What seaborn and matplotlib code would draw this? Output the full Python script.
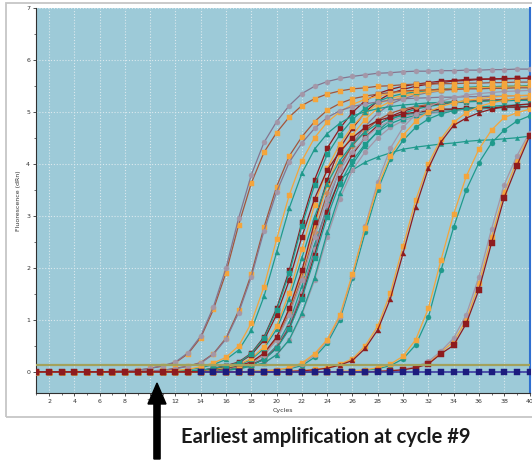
import matplotlib
matplotlib.use("Agg")
import matplotlib.pyplot as plt
from matplotlib.patches import Rectangle, FancyArrow
import numpy as np
import pandas as pd
import seaborn as sns

# ---------------- data ----------------
cycles = list(range(1, 41))
x_ticks = list(range(2, 41, 2))
y_ticks = [0, 1, 2, 3, 4, 5, 6, 7]
threshold = 0.13
x_label = "Cycles"
y_label = "Fluorescence (dRn)"
note = "Earliest amplification at cycle #9"

a1 = [0, 0, 0, 0, 0, 0, 0.01, 0.02, 0.03, 0.07, 0.12, 0.19, 0.37, 0.69, 1.25, 2.0, 2.96, 3.79, 4.41, 4.81,
      5.12, 5.35, 5.49, 5.58, 5.64, 5.68, 5.71, 5.74, 5.75, 5.77, 5.78, 5.78, 5.79, 5.79, 5.8, 5.8, 5.81, 5.81, 5.82, 5.82]
a2 = [0, 0, 0, 0, 0, 0, 0.01, 0.02, 0.03, 0.07, 0.11, 0.18, 0.35, 0.66, 1.2, 1.91, 2.83, 3.63, 4.22, 4.6,
      4.9, 5.12, 5.25, 5.34, 5.4, 5.44, 5.46, 5.49, 5.5, 5.52, 5.53, 5.53, 5.54, 5.54, 5.55, 5.55, 5.56, 5.56, 5.57, 5.57]
b1 = [0, 0, 0, 0, 0, 0, 0, 0, 0.01, 0.02, 0.03, 0.06, 0.11, 0.17, 0.34, 0.63, 1.14, 1.83, 2.71, 3.46,
      4.03, 4.4, 4.68, 4.89, 5.02, 5.1, 5.15, 5.19, 5.22, 5.25, 5.26, 5.27, 5.28, 5.28, 5.29, 5.29, 5.3, 5.3, 5.31, 5.31]
b1b = [0, 0, 0, 0, 0, 0, 0, 0, 0.01, 0.02, 0.03, 0.07, 0.11, 0.18, 0.35, 0.65, 1.18, 1.88, 2.78, 3.56,
       4.15, 4.52, 4.81, 5.03, 5.16, 5.25, 5.3, 5.34, 5.37, 5.4, 5.41, 5.42, 5.43, 5.43, 5.44, 5.44, 5.45, 5.45, 5.46, 5.46]
b2 = [0, 0, 0, 0, 0, 0, 0, 0, 0, 0, 0.01, 0.03, 0.05, 0.1, 0.17, 0.28, 0.5, 0.94, 1.64, 2.55,
      3.4, 4.06, 4.5, 4.8, 5.0, 5.14, 5.24, 5.3, 5.35, 5.38, 5.4, 5.42, 5.43, 5.44, 5.45, 5.46, 5.47, 5.47, 5.48, 5.48]
b2b = [0, 0, 0, 0, 0, 0, 0, 0, 0, 0, 0.01, 0.02, 0.04, 0.08, 0.14, 0.24, 0.42, 0.8, 1.45, 2.3,
       3.15, 3.82, 4.28, 4.58, 4.78, 4.92, 5.0, 5.06, 5.1, 5.13, 5.15, 5.17, 5.18, 5.19, 5.2, 5.2, 5.21, 5.21, 5.22, 5.22]
c1 = [0, 0, 0, 0, 0, 0, 0, 0, 0, 0, 0, 0.01, 0.02, 0.03, 0.07, 0.11, 0.18, 0.35, 0.65, 1.19,
      1.9, 2.81, 3.59, 4.18, 4.56, 4.85, 5.07, 5.2, 5.29, 5.35, 5.38, 5.41, 5.44, 5.45, 5.47, 5.48, 5.48, 5.49, 5.49, 5.5]
c2 = [0, 0, 0, 0, 0, 0, 0, 0, 0, 0, 0, 0.01, 0.02, 0.03, 0.06, 0.11, 0.17, 0.33, 0.61, 1.1,
      1.76, 2.6, 3.33, 3.88, 4.23, 4.5, 4.7, 4.83, 4.9, 4.96, 4.99, 5.02, 5.05, 5.05, 5.07, 5.08, 5.08, 5.09, 5.09, 5.1]
c14 = [0, 0, 0, 0, 0, 0, 0, 0, 0, 0, 0, 0.01, 0.02, 0.03, 0.07, 0.12, 0.19, 0.36, 0.67, 1.22,
       1.95, 2.88, 3.69, 4.3, 4.68, 4.99, 5.21, 5.35, 5.43, 5.49, 5.53, 5.56, 5.59, 5.6, 5.62, 5.63, 5.63, 5.64, 5.64, 5.65]
c3 = [0, 0, 0, 0, 0, 0, 0, 0, 0, 0, 0, 0, 0.01, 0.02, 0.05, 0.09, 0.14, 0.26, 0.48, 0.88,
      1.52, 2.36, 3.21, 3.91, 4.38, 4.72, 4.97, 5.15, 5.25, 5.32, 5.37, 5.4, 5.43, 5.45, 5.46, 5.47, 5.48, 5.49, 5.49, 5.5]
c4 = [0, 0, 0, 0, 0, 0, 0, 0, 0, 0, 0, 0, 0.01, 0.02, 0.04, 0.08, 0.13, 0.24, 0.45, 0.82,
      1.41, 2.19, 2.98, 3.62, 4.06, 4.38, 4.61, 4.77, 4.87, 4.93, 4.98, 5.01, 5.04, 5.05, 5.06, 5.07, 5.08, 5.09, 5.09, 5.1]
c5 = [0, 0, 0, 0, 0, 0, 0, 0, 0, 0, 0, 0, 0.01, 0.02, 0.03, 0.07, 0.12, 0.19, 0.36, 0.67,
      1.22, 1.95, 2.88, 3.69, 4.3, 4.68, 4.99, 5.21, 5.35, 5.43, 5.49, 5.53, 5.56, 5.59, 5.6, 5.62, 5.63, 5.63, 5.64, 5.64]
c6 = [0, 0, 0, 0, 0, 0, 0, 0, 0, 0, 0, 0, 0.01, 0.02, 0.03, 0.06, 0.11, 0.17, 0.33, 0.61,
      1.1, 1.76, 2.6, 3.33, 3.88, 4.23, 4.5, 4.7, 4.83, 4.9, 4.96, 4.99, 5.02, 5.05, 5.05, 5.07, 5.08, 5.08, 5.09, 5.09]
c7 = [0, 0, 0, 0, 0, 0, 0, 0, 0, 0, 0, 0, 0.01, 0.02, 0.03, 0.06, 0.11, 0.17, 0.33, 0.62,
      1.13, 1.81, 2.68, 3.43, 3.99, 4.35, 4.63, 4.84, 4.97, 5.05, 5.1, 5.14, 5.17, 5.19, 5.2, 5.22, 5.23, 5.23, 5.24, 5.24]
c9 = [0, 0, 0, 0, 0, 0, 0, 0, 0, 0, 0, 0, 0.01, 0.02, 0.03, 0.07, 0.11, 0.18, 0.35, 0.65,
      1.19, 1.9, 2.81, 3.59, 4.18, 4.56, 4.85, 5.07, 5.2, 5.29, 5.35, 5.38, 5.41, 5.44, 5.45, 5.47, 5.48, 5.48, 5.49, 5.49]
c8 = [0, 0, 0, 0, 0, 0, 0, 0, 0, 0, 0, 0, 0, 0.01, 0.02, 0.04, 0.08, 0.13, 0.24, 0.45,
      0.82, 1.41, 2.19, 2.98, 3.62, 4.06, 4.38, 4.61, 4.77, 4.87, 4.93, 4.98, 5.01, 5.04, 5.05, 5.06, 5.07, 5.08, 5.09, 5.09]
c10 = [0, 0, 0, 0, 0, 0, 0, 0, 0, 0, 0, 0, 0, 0.01, 0.02, 0.05, 0.08, 0.14, 0.24, 0.46,
       0.84, 1.45, 2.25, 3.07, 3.73, 4.18, 4.51, 4.74, 4.91, 5.01, 5.08, 5.12, 5.16, 5.19, 5.2, 5.21, 5.22, 5.23, 5.24, 5.24]
c11 = [0, 0, 0, 0, 0, 0, 0, 0, 0, 0, 0, 0, 0, 0.01, 0.02, 0.05, 0.09, 0.14, 0.26, 0.48,
       0.88, 1.52, 2.36, 3.21, 3.91, 4.38, 4.72, 4.97, 5.15, 5.25, 5.32, 5.37, 5.4, 5.43, 5.45, 5.46, 5.47, 5.48, 5.49, 5.49]
c12 = [0, 0, 0, 0, 0, 0, 0, 0, 0, 0, 0, 0, 0, 0.01, 0.02, 0.03, 0.06, 0.11, 0.17, 0.33,
       0.62, 1.13, 1.81, 2.68, 3.43, 3.99, 4.35, 4.63, 4.84, 4.97, 5.05, 5.1, 5.14, 5.17, 5.19, 5.2, 5.22, 5.23, 5.23, 5.24]
c13 = [0, 0, 0, 0, 0, 0, 0, 0, 0, 0, 0, 0, 0, 0.01, 0.02, 0.03, 0.06, 0.11, 0.17, 0.33,
       0.61, 1.1, 1.76, 2.6, 3.33, 3.88, 4.23, 4.5, 4.7, 4.83, 4.9, 4.96, 4.99, 5.02, 5.05, 5.05, 5.07, 5.08, 5.08, 5.09]
d1 = [0, 0, 0, 0, 0, 0, 0, 0, 0, 0, 0, 0, 0, 0, 0.01, 0.03, 0.06, 0.12, 0.25, 0.5,
      0.95, 1.65, 2.45, 3.15, 3.7, 3.88, 4.03, 4.13, 4.21, 4.28, 4.32, 4.35, 4.38, 4.4, 4.43, 4.45, 4.46, 4.48, 4.5, 4.53]
e1 = [0, 0, 0, 0, 0, 0, 0, 0, 0, 0, 0, 0, 0, 0, 0, 0, 0, 0.01, 0.02, 0.04,
      0.08, 0.17, 0.35, 0.62, 1.09, 1.89, 2.77, 3.57, 4.15, 4.55, 4.82, 5.0, 5.1, 5.17, 5.22, 5.25, 5.28, 5.3, 5.31, 5.32]
e2 = [0, 0, 0, 0, 0, 0, 0, 0, 0, 0, 0, 0, 0, 0, 0, 0, 0, 0.01, 0.02, 0.04,
      0.07, 0.15, 0.32, 0.6, 1.05, 1.85, 2.8, 3.65, 4.3, 4.7, 4.95, 5.1, 5.2, 5.27, 5.32, 5.35, 5.37, 5.39, 5.4, 5.41]
e3 = [0, 0, 0, 0, 0, 0, 0, 0, 0, 0, 0, 0, 0, 0, 0, 0, 0, 0.01, 0.02, 0.03,
      0.06, 0.12, 0.28, 0.55, 1.0, 1.8, 2.68, 3.5, 4.1, 4.45, 4.7, 4.86, 4.96, 5.02, 5.06, 5.09, 5.11, 5.12, 5.13, 5.14]
f1 = [0, 0, 0, 0, 0, 0, 0, 0, 0, 0, 0, 0, 0, 0, 0, 0, 0, 0, 0, 0,
      0.01, 0.02, 0.04, 0.07, 0.13, 0.22, 0.45, 0.81, 1.41, 2.28, 3.17, 3.91, 4.42, 4.74, 4.88, 4.98, 5.05, 5.1, 5.13, 5.15]
f2 = [0, 0, 0, 0, 0, 0, 0, 0, 0, 0, 0, 0, 0, 0, 0, 0, 0, 0, 0, 0,
      0.01, 0.02, 0.05, 0.08, 0.15, 0.25, 0.5, 0.88, 1.52, 2.42, 3.3, 4.0, 4.48, 4.8, 4.98, 5.1, 5.17, 5.22, 5.25, 5.27]
g1 = [0, 0, 0, 0, 0, 0, 0, 0, 0, 0, 0, 0, 0, 0, 0, 0, 0, 0, 0, 0,
      0, 0, 0, 0, 0.01, 0.02, 0.04, 0.08, 0.15, 0.3, 0.62, 1.22, 2.15, 3.03, 3.76, 4.28, 4.65, 4.89, 4.98, 5.05]
g2 = [0, 0, 0, 0, 0, 0, 0, 0, 0, 0, 0, 0, 0, 0, 0, 0, 0, 0, 0, 0,
      0, 0, 0, 0, 0, 0.01, 0.03, 0.06, 0.12, 0.25, 0.52, 1.05, 1.95, 2.78, 3.5, 4.02, 4.4, 4.65, 4.82, 4.92]
h1 = [0, 0, 0, 0, 0, 0, 0, 0, 0, 0, 0, 0, 0, 0, 0, 0, 0, 0, 0, 0,
      0, 0, 0, 0, 0, 0, 0, 0.01, 0.02, 0.04, 0.08, 0.15, 0.35, 0.51, 0.93, 1.58, 2.48, 3.35, 3.96, 4.53]
h2 = [0, 0, 0, 0, 0, 0, 0, 0, 0, 0, 0, 0, 0, 0, 0, 0, 0, 0, 0, 0,
      0, 0, 0, 0, 0, 0, 0, 0.01, 0.03, 0.05, 0.1, 0.2, 0.4, 0.65, 1.1, 1.83, 2.75, 3.6, 4.15, 4.6]
h3 = [0, 0, 0, 0, 0, 0, 0, 0, 0, 0, 0, 0, 0, 0, 0, 0, 0, 0, 0, 0,
      0, 0, 0, 0, 0, 0, 0, 0.01, 0.02, 0.05, 0.09, 0.17, 0.38, 0.58, 1.0, 1.7, 2.6, 3.45, 4.05, 4.56]
ntc = [None, None, None, None, None, None, None, None, None, None, None, None, None, 0, 0, 0, 0, 0, 0, 0,
       0, 0, 0, 0, 0, 0, 0, 0, 0, 0, 0, 0, 0, 0, 0, 0, 0, 0, 0, 0]

# ---------------- styles ----------------
BG = "#9dcad8"
TEAL = "#1f9a8c"
RED = "#8e1b1e"
ORANGE = "#f4a53c"
GRAY = "#a497a8"
PURP = "#85758f"
BROWN = "#a4553a"
NAVY = "#1c1c7e"

# (values, line colour, marker, marker colour, marker size)
curves = [
    (d1, TEAL, "^", TEAL, 3.0),
    (c13, GRAY, "o", GRAY, 3.6), (c12, TEAL, "^", TEAL, 3.6), (c11, PURP, "o", GRAY, 3.6),
    (c10, RED, "s", RED, 3.6), (c8, TEAL, "s", TEAL, 3.6), (c9, ORANGE, "s", ORANGE, 3.6),
    (c7, BROWN, "D", "#c9885a", 3.2), (c6, GRAY, "o", GRAY, 3.6), (c5, RED, "s", RED, 3.6),
    (c4, TEAL, "^", TEAL, 3.6), (c3, ORANGE, "s", ORANGE, 3.6), (c14, RED, "s", RED, 3.6),
    (c2, RED, "s", RED, 3.6), (c1, TEAL, "s", TEAL, 3.6),
    (b2b, TEAL, "^", TEAL, 3.6), (b2, ORANGE, "s", ORANGE, 3.6),
    (b1b, BROWN, "s", ORANGE, 3.6), (b1, PURP, "o", GRAY, 3.6),
    (a2, BROWN, "s", ORANGE, 3.6), (a1, PURP, "o", GRAY, 3.6),
    (e3, TEAL, "o", TEAL, 3.6), (e2, GRAY, "o", GRAY, 3.6), (e1, ORANGE, "s", ORANGE, 3.6),
    (g2, TEAL, "o", TEAL, 3.6), (g1, ORANGE, "s", ORANGE, 3.6),
    (f2, ORANGE, "s", ORANGE, 3.6), (h3, ORANGE, "s", ORANGE, 3.6), (h2, GRAY, "o", GRAY, 3.6),
    (f1, RED, "^", RED, 3.6), (h1, RED, "s", RED, 4.2),
]

fig = plt.figure(figsize=(5.32, 4.63), dpi=100)
W, H = 532, 463
ax = fig.add_axes([36.4 / W, 1 - 392.7 / H, (529.5 - 36.4) / W, (392.7 - 7.7) / H])
ax.set_facecolor(BG)

for i, (vals, lc, mk, mc, ms) in enumerate(curves):
    df = pd.DataFrame({"cycle": cycles, "fluor": vals})
    sns.lineplot(data=df, x="cycle", y="fluor", ax=ax, color=lc, marker=mk,
                 markerfacecolor=mc, markeredgecolor=mc, markeredgewidth=0.3,
                 markersize=ms, linewidth=0.9, errorbar=None, zorder=3 + i * 0.01)

ax.axhline(threshold, color="#a3a25c", linewidth=1.6, zorder=3.5)

df_ntc = pd.DataFrame({"cycle": cycles, "fluor": ntc}).astype(float)
sns.lineplot(data=df_ntc, x="cycle", y="fluor", ax=ax, color="#3a3aa0", marker="s",
             markerfacecolor=NAVY, markeredgecolor=NAVY, markeredgewidth=0.3,
             markersize=4.2, linewidth=1.2, errorbar=None, zorder=4)

ax.set_xlim(1, 40)
ax.set_ylim(-0.4, 7)
ax.set_xticks(x_ticks)
ax.set_xticks(cycles, minor=True)
ax.set_yticks(y_ticks)
ax.set_yticks(np.arange(0, 7.01, 0.5), minor=True)
ax.grid(True, which="major", color="#dbe9ee", linestyle=(0, (1, 1.6)), linewidth=0.8, zorder=1)
ax.set_axisbelow(True)
ax.tick_params(which="major", direction="out", length=2.5, width=0.6, labelsize=4.5,
               colors="#333333", pad=2)
ax.tick_params(which="minor", direction="out", length=1.5, width=0.5, colors="#333333")
for s in ("left", "bottom"):
    ax.spines[s].set_color("#303030")
    ax.spines[s].set_linewidth(0.8)
ax.spines["top"].set_visible(False)
ax.spines["right"].set_color("#2f6fd0")
ax.spines["right"].set_linewidth(1.5)
ax.set_xlabel(x_label, fontsize=4.5, color="#333333", labelpad=3)
ax.set_ylabel(y_label, fontsize=4.5, color="#333333", labelpad=4)

# outer frame
fig.add_artist(Rectangle((6 / W, 1 - 417 / H), 560 / W, (417 - 3) / H, transform=fig.transFigure,
                         fill=False, edgecolor="#c6c6c6", linewidth=1.3))

# arrow and note
fig.add_artist(FancyArrow(1.57, 0.04, 0, 0.76, width=0.062, head_width=0.18, head_length=0.21,
                          length_includes_head=True, color="black", transform=fig.dpi_scale_trans))
fig.text(181 / W, 1 - 437 / H, note, fontsize=14.5, fontweight="bold", ha="left", va="center",
         color="#1a1a1a", family=["Lato", "DejaVu Sans"])

fig.savefig("out.png", dpi=100)
